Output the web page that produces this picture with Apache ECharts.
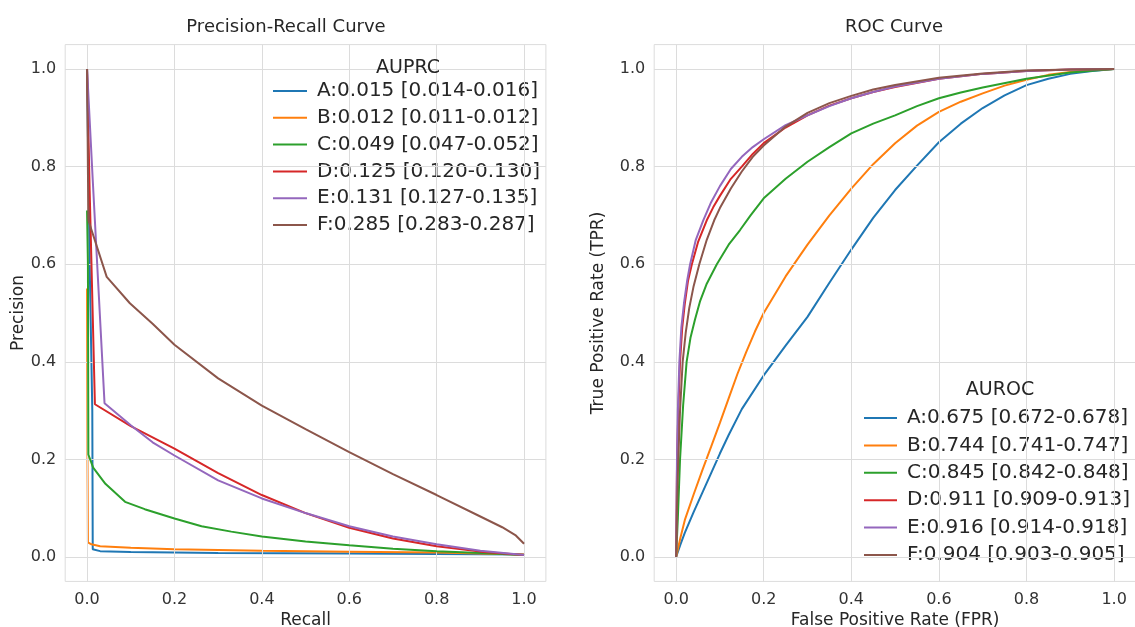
<!DOCTYPE html>
<html>
<head>
<meta charset="utf-8">
<script src="https://cdn.jsdelivr.net/npm/echarts@6/dist/echarts.min.js"></script>
<style>
html,body{margin:0;padding:0;background:#fff;}
#chart{width:1135px;height:627px;}
</style>
</head>
<body>
<div id="chart"></div>
<script>
// ---------- data ----------
const tickValues = [0, 0.2, 0.4, 0.6, 0.8, 1.0];
const colors = ['#1f77b4', '#ff7f0e', '#2ca02c', '#d62728', '#9467bd', '#8c564b'];
const auprcLabels = [
  'A:0.015 [0.014-0.016]',
  'B:0.012 [0.011-0.012]',
  'C:0.049 [0.047-0.052]',
  'D:0.125 [0.120-0.130]',
  'E:0.131 [0.127-0.135]',
  'F:0.285 [0.283-0.287]'
];
const aurocLabels = [
  'A:0.675 [0.672-0.678]',
  'B:0.744 [0.741-0.747]',
  'C:0.845 [0.842-0.848]',
  'D:0.911 [0.909-0.913]',
  'E:0.916 [0.914-0.918]',
  'F:0.904 [0.903-0.905]'
];

// Precision-Recall points: [recall, precision]
const prA = [[0,1.0],[0.006,0.6],[0.012,0.3],[0.013,0.016],[0.03,0.012],[0.1,0.01],[0.3,0.008],[0.6,0.007],[1.0,0.005]];
const prB = [[0,0.55],[0.001,0.2],[0.002,0.03],[0.01,0.026],[0.03,0.022],[0.1,0.019],[0.2,0.016],[0.4,0.013],[0.6,0.011],[0.8,0.009],[1.0,0.005]];
const prC = [[0,0.71],[0.002,0.6],[0.003,0.21],[0.014,0.183],[0.042,0.15],[0.087,0.113],[0.132,0.098],[0.2,0.079],[0.262,0.063],[0.33,0.052],[0.4,0.042],[0.5,0.032],[0.6,0.024],[0.7,0.017],[0.8,0.012],[0.9,0.008],[1.0,0.004]];
const prD = [[0,1.0],[0.006,0.75],[0.018,0.313],[0.1,0.268],[0.2,0.222],[0.3,0.172],[0.4,0.127],[0.5,0.09],[0.6,0.06],[0.7,0.038],[0.8,0.022],[0.9,0.011],[1.0,0.004]];
const prE = [[0,1.0],[0.013,0.773],[0.04,0.315],[0.1,0.27],[0.15,0.235],[0.2,0.208],[0.3,0.157],[0.4,0.12],[0.5,0.09],[0.6,0.063],[0.7,0.042],[0.8,0.026],[0.9,0.013],[1.0,0.004]];
const prF = [[0,1.0],[0.003,0.69],[0.045,0.574],[0.098,0.52],[0.15,0.478],[0.2,0.435],[0.3,0.366],[0.4,0.31],[0.5,0.262],[0.6,0.215],[0.7,0.17],[0.8,0.127],[0.9,0.083],[0.95,0.061],[0.98,0.045],[1.0,0.027]];

// ROC points: [FPR, TPR]
const rocA = [[0,0],[0.01,0.026],[0.02,0.05],[0.04,0.092],[0.06,0.132],[0.08,0.172],[0.1,0.212],[0.12,0.25],[0.15,0.303],[0.2,0.372],[0.25,0.433],[0.3,0.492],[0.35,0.562],[0.4,0.63],[0.45,0.695],[0.5,0.752],[0.55,0.802],[0.6,0.85],[0.65,0.888],[0.7,0.92],[0.75,0.946],[0.8,0.967],[0.85,0.98],[0.9,0.99],[0.95,0.996],[1.0,1.0]];
const rocB = [[0,0],[0.01,0.04],[0.02,0.076],[0.04,0.128],[0.06,0.178],[0.08,0.226],[0.1,0.275],[0.12,0.325],[0.14,0.375],[0.16,0.42],[0.18,0.462],[0.2,0.5],[0.25,0.575],[0.3,0.64],[0.35,0.7],[0.4,0.755],[0.45,0.805],[0.5,0.848],[0.55,0.884],[0.6,0.912],[0.65,0.933],[0.7,0.95],[0.75,0.966],[0.8,0.978],[0.85,0.988],[0.9,0.994],[0.95,0.998],[1.0,1.0]];
const rocC = [[0,0],[0.004,0.08],[0.009,0.2],[0.016,0.31],[0.024,0.4],[0.033,0.45],[0.043,0.486],[0.055,0.525],[0.07,0.56],[0.093,0.6],[0.12,0.64],[0.146,0.67],[0.17,0.7],[0.2,0.735],[0.25,0.775],[0.3,0.81],[0.35,0.84],[0.4,0.868],[0.45,0.888],[0.5,0.905],[0.55,0.924],[0.6,0.94],[0.65,0.952],[0.7,0.962],[0.8,0.98],[0.9,0.993],[1.0,1.0]];
const rocD = [[0,0],[0.002,0.18],[0.005,0.3],[0.009,0.4],[0.014,0.47],[0.02,0.52],[0.027,0.565],[0.036,0.6],[0.05,0.645],[0.07,0.69],[0.085,0.717],[0.1,0.74],[0.125,0.775],[0.15,0.8],[0.175,0.826],[0.2,0.848],[0.25,0.88],[0.3,0.905],[0.35,0.925],[0.4,0.94],[0.45,0.953],[0.5,0.963],[0.6,0.98],[0.7,0.99],[0.8,0.996],[0.9,0.999],[1.0,1.0]];
const rocE = [[0,0],[0.002,0.2],[0.004,0.3],[0.0075,0.4],[0.012,0.47],[0.018,0.52],[0.025,0.565],[0.032,0.6],[0.045,0.65],[0.062,0.69],[0.08,0.727],[0.1,0.76],[0.125,0.795],[0.15,0.82],[0.175,0.84],[0.2,0.856],[0.25,0.885],[0.3,0.905],[0.35,0.924],[0.4,0.94],[0.45,0.953],[0.5,0.964],[0.6,0.98],[0.7,0.99],[0.8,0.996],[0.9,0.999],[1.0,1.0]];
const rocF = [[0,0],[0.002,0.1],[0.005,0.2],[0.009,0.3],[0.015,0.4],[0.022,0.46],[0.03,0.51],[0.04,0.555],[0.053,0.6],[0.07,0.65],[0.087,0.69],[0.1,0.715],[0.125,0.755],[0.15,0.79],[0.175,0.82],[0.2,0.843],[0.25,0.882],[0.3,0.91],[0.35,0.93],[0.4,0.945],[0.45,0.958],[0.5,0.967],[0.6,0.982],[0.7,0.991],[0.8,0.997],[0.9,0.999],[1.0,1.0]];

const prData = [prA, prB, prC, prD, prE, prF];
const rocData = [rocA, rocB, rocC, rocD, rocE, rocF];

// ---------- chart ----------
const FONT = 'DejaVu Sans';
const TEXT = '#262626';
const GRIDC = '#dcdcdc';

function axisCommon(gridIndex, name, nameGap, isY) {
  return {
    type: 'value', gridIndex: gridIndex, min: -0.05, max: 1.05,
    axisLine: {show: false}, axisTick: {show: false}, splitLine: {show: false},
    axisLabel: {customValues: tickValues, formatter: v => v.toFixed(1), margin: isY ? 9 : 10,
      fontSize: 16, color: '#333', fontFamily: FONT},
    name: name, nameLocation: 'middle', nameGap: nameGap,
    nameTextStyle: {fontSize: 17, color: TEXT, fontFamily: FONT}
  };
}

function gridLines(idx) {
  return {
    type: 'line', xAxisIndex: idx, yAxisIndex: idx, data: [], z: 1, silent: true,
    markLine: {
      silent: true, symbol: 'none', animation: false, label: {show: false},
      lineStyle: {color: GRIDC, width: 1, type: 'solid'},
      emphasis: {disabled: true},
      data: tickValues.map(t => ({xAxis: t})).concat(tickValues.map(t => ({yAxis: t})))
    }
  };
}

const series = [gridLines(0), gridLines(1)];
prData.forEach((d, i) => series.push({
  type: 'line', name: auprcLabels[i], xAxisIndex: 0, yAxisIndex: 0, data: d,
  symbol: 'none', z: 3 + i, lineStyle: {width: 2, color: colors[i]}, itemStyle: {color: colors[i]}
}));
rocData.forEach((d, i) => series.push({
  type: 'line', name: aurocLabels[i], xAxisIndex: 1, yAxisIndex: 1, data: d,
  symbol: 'none', z: 3 + i,
  lineStyle: {width: 2, color: colors[i]}, itemStyle: {color: colors[i]}
}));

const titleStyle = {fontSize: 18, fontWeight: 'normal', color: TEXT, fontFamily: FONT};
const legTitleStyle = {fontSize: 19, fontWeight: 'normal', color: TEXT, fontFamily: FONT};
const legendText = {fontSize: 20, lineHeight: 20, color: TEXT, fontFamily: FONT, padding: [0, 0, 0, 5]};

const option = {
  animation: false,
  backgroundColor: '#fff',
  title: [
    {text: 'Precision-Recall Curve', left: 286, top: 18, textAlign: 'center', padding: 0, textStyle: titleStyle},
    {text: 'ROC Curve', left: 894, top: 18, textAlign: 'center', padding: 0, textStyle: titleStyle},
    {text: 'AUPRC', left: 408, top: 59, textAlign: 'center', padding: 0, textStyle: legTitleStyle},
    {text: 'AUROC', left: 1000, top: 381, textAlign: 'center', padding: 0, textStyle: legTitleStyle}
  ],
  legend: [
    {data: auprcLabels, orient: 'vertical', left: 273, top: 81, padding: 0, icon: 'rect', itemWidth: 34, itemHeight: 2,
      itemGap: 6.8, textStyle: legendText, selectedMode: false},
    {data: aurocLabels, orient: 'vertical', left: 864, top: 408, padding: 0, icon: 'rect', itemWidth: 33, itemHeight: 2,
      itemGap: 7.4, textStyle: legendText, selectedMode: false}
  ],
  grid: [
    {left: 65.2, top: 44.6, width: 480.7, height: 536.8, show: true, borderColor: GRIDC, borderWidth: 1,
      backgroundColor: 'transparent', outerBoundsMode: 'none', containLabel: false},
    {left: 654.2, top: 44.6, width: 481.8, height: 536.8, show: true, borderColor: GRIDC, borderWidth: 1,
      backgroundColor: 'transparent', outerBoundsMode: 'none', containLabel: false}
  ],
  xAxis: [axisCommon(0, 'Recall', 30, false), axisCommon(1, 'False Positive Rate (FPR)', 30, false)],
  yAxis: [axisCommon(0, 'Precision', 38, true), axisCommon(1, 'True Positive Rate (TPR)', 47, true)],
  series: series
};

const chart = echarts.init(document.getElementById('chart'), null, {renderer: 'canvas'});
chart.setOption(option);
</script>
</body>
</html>
